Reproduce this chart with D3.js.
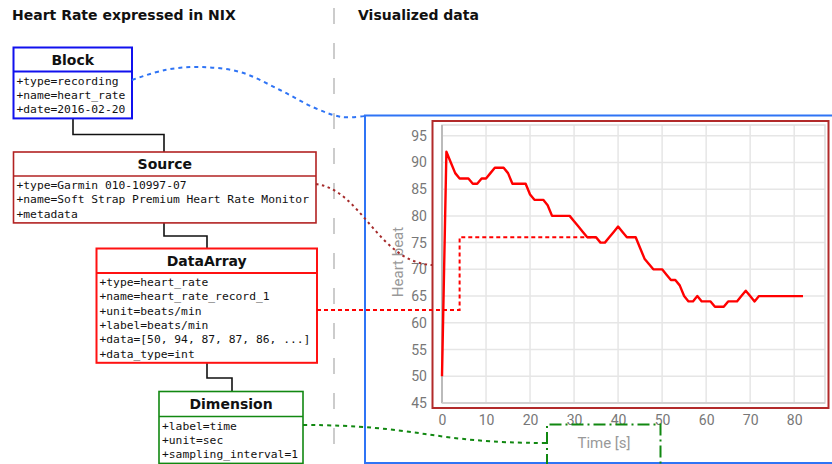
<!DOCTYPE html>
<html>
<head>
<meta charset="utf-8">
<script src="https://cdn.jsdelivr.net/npm/d3@7"></script>
<style>
html,body{margin:0;padding:0;background:#fff;}
svg{display:block;}
</style>
</head>
<body>
<svg id="c" width="832" height="464"></svg>
<script>
// ---- data ----
const heartRate = [50,92,90,88,87,87,87,86,86,87,87,88,89,89,89,88,86,86,86,86,
  84,83,83,83,82,80,80,80,80,80,79,78,77,76,76,76,75,75,76,77,
  78,77,76,76,76,74,72,71,70,70,70,69,68,68,67,65,64,64,65,64,
  64,64,63,63,63,64,64,64,65,66,65,64,65,65,65,65,65,65,65,65,65,65,65];
const samplingInterval = 1;
const xTicks = [0,10,20,30,40,50,60,70,80];
const yTicks = [45,50,55,60,65,70,75,80,85,90,95];
const xLabel = "Time [s]";
const yLabel = "Heart beat";

const blockAttrs = ["+type=recording","+name=heart_rate","+date=2016-02-20"];
const sourceAttrs = ["+type=Garmin 010-10997-07","+name=Soft Strap Premium Heart Rate Monitor","+metadata"];
const dataArrayAttrs = ["+type=heart_rate","+name=heart_rate_record_1","+unit=beats/min","+label=beats/min","+data=[50, 94, 87, 87, 86, ...]","+data_type=int"];
const dimensionAttrs = ["+label=time","+unit=sec","+sampling_interval=1"];

const svg = d3.select("#c");

// titles
svg.append("text").attr("x",12).attr("y",20).text("Heart Rate expressed in NIX")
  .attr("font-family","DejaVu Sans").attr("font-weight","bold").attr("font-size",14).attr("fill","#111");
svg.append("text").attr("x",358).attr("y",20).text("Visualized data")
  .attr("font-family","DejaVu Sans").attr("font-weight","bold").attr("font-size",14).attr("fill","#111");

// separator
svg.append("line").attr("x1",334).attr("x2",334).attr("y1",8).attr("y2",458)
  .attr("stroke","#cccccc").attr("stroke-width",2).attr("stroke-dasharray","16,19");

// chart frame (blue)
svg.append("path").attr("d","M365,464 V115.5 H832").attr("fill","none")
  .attr("stroke","#2f74f5").attr("stroke-width",2);
svg.append("line").attr("x1",365).attr("x2",832).attr("y1",463).attr("y2",463)
  .attr("stroke","#2f74f5").attr("stroke-width",2);

// UML boxes
function umlBox(x, y, w, headH, title, attrs, color, sw) {
  const g = svg.append("g");
  const lh = 14.3;
  const h = headH + 4 + attrs.length*lh;
  g.append("rect").attr("x",x).attr("y",y).attr("width",w).attr("height",h)
    .attr("fill","#fff").attr("stroke",color).attr("stroke-width",sw);
  g.append("line").attr("x1",x).attr("x2",x+w).attr("y1",y+headH).attr("y2",y+headH)
    .attr("stroke",color).attr("stroke-width",sw);
  g.append("text").attr("x",x+w/2).attr("y",y+headH/2+5).attr("text-anchor","middle")
    .attr("font-family","DejaVu Sans").attr("font-weight","bold").attr("font-size",14).attr("fill","#111").text(title);
  attrs.forEach((a,i)=>{
    g.append("text").attr("x",x+3).attr("y",y+headH+13+i*lh)
      .attr("font-family","DejaVu Sans Mono").attr("font-size",11.3).attr("fill","#111")
      .attr("xml:space","preserve").style("white-space","pre").text(a);
  });
  return h;
}

// connectors (black)
const conn = "#111";
svg.append("path").attr("d","M73,117 V134.5 H164 V152").attr("fill","none").attr("stroke",conn).attr("stroke-width",1.6);
svg.append("path").attr("d","M164,222 V236 H207 V248").attr("fill","none").attr("stroke",conn).attr("stroke-width",1.6);
svg.append("path").attr("d","M207,362 V378 H232 V391").attr("fill","none").attr("stroke",conn).attr("stroke-width",1.6);

umlBox(13.5,47.5,118.5,24,"Block",blockAttrs,"#1111ee",2);
umlBox(13.5,152,302.5,24,"Source",sourceAttrs,"#b22222",1.6);
umlBox(96.5,248.5,220.5,24.5,"DataArray",dataArrayAttrs,"#ff1111",2);
umlBox(159,391.5,144,25,"Dimension",dimensionAttrs,"#118811",1.6);

// ---- chart ----
const x = d3.scaleLinear().domain([0,87]).range([442,825]);
const y = d3.scaleLinear().domain([45,97]).range([403,125]);

// outer red border
svg.append("rect").attr("x",432.5).attr("y",121).attr("width",396).attr("height",287)
  .attr("fill","#fff").attr("stroke","#b22a2a").attr("stroke-width",2);

// grid
const grid = svg.append("g");
grid.selectAll("line.gx").data(xTicks).join("line")
  .attr("x1",d=>x(d)).attr("x2",d=>x(d)).attr("y1",y.range()[1]).attr("y2",y.range()[0])
  .attr("stroke","#e6e6e6").attr("stroke-width",1.5);
grid.selectAll("line.gy").data(yTicks).join("line")
  .attr("x1",x.range()[0]).attr("x2",x.range()[1]).attr("y1",d=>y(d)).attr("y2",d=>y(d))
  .attr("stroke","#e6e6e6").attr("stroke-width",1.5);
// plot frame
svg.append("rect").attr("x",x.range()[0]).attr("y",y.range()[1])
  .attr("width",x.range()[1]-x.range()[0]).attr("height",y.range()[0]-y.range()[1])
  .attr("fill","none").attr("stroke","#dddddd").attr("stroke-width",1.5);
svg.append("line").attr("x1",x(0)).attr("x2",x(0)).attr("y1",y.range()[1]).attr("y2",y.range()[0])
  .attr("stroke","#bbbbbb").attr("stroke-width",2);
svg.append("line").attr("x1",x.range()[0]).attr("x2",x.range()[1]).attr("y1",y.range()[0]).attr("y2",y.range()[0])
  .attr("stroke","#cccccc").attr("stroke-width",1.5);

// axes
const xAxis = svg.append("g").attr("transform","translate(0,412)")
  .call(d3.axisBottom(x).tickValues(xTicks).tickSize(0).tickPadding(3));
const yAxis = svg.append("g").attr("transform","translate(429,0)")
  .call(d3.axisLeft(y).tickValues(yTicks).tickSize(0).tickPadding(2));
[xAxis,yAxis].forEach(a=>{
  a.select(".domain").remove();
  a.selectAll("text").attr("font-family","Roboto").attr("font-size",14).attr("fill","#777");
});

svg.append("text").attr("transform","translate(403,262) rotate(-90)").attr("text-anchor","middle")
  .attr("font-family","Roboto").attr("font-size",15).attr("fill","#999").text(yLabel);

// data line
const line = d3.line().x((d,i)=>x(i*samplingInterval)).y(d=>y(d));
svg.append("path").datum(heartRate).attr("d",line).attr("fill","none")
  .attr("stroke","#ff0000").attr("stroke-width",2.4).attr("stroke-linejoin","round");

// ---- annotations ----
// Block -> chart frame (blue dashed)
const bluePts = [[132,80],[165,70],[200,67],[240,72],[280,90],[315,108],[342,117],[365,116]];
svg.append("path").attr("d",d3.line().curve(d3.curveCatmullRom)(bluePts)).attr("fill","none")
  .attr("stroke","#2f74f5").attr("stroke-width",2).attr("stroke-dasharray","4,4");

// Source -> y label (dark red dotted)
svg.append("path").attr("d","M316,184 C362,190 378,262 432,265").attr("fill","none")
  .attr("stroke","#a52a2a").attr("stroke-width",2).attr("stroke-dasharray","2.5,3.5");

// DataArray -> data (red dashed)
svg.append("path").attr("d",`M317,${310} H${x(4)} V${y(76)} H${x(35)}`).attr("fill","none")
  .attr("stroke","#ff0000").attr("stroke-width",2).attr("stroke-dasharray","4,3");

// Dimension -> x label (green dashed)
svg.append("path").attr("d","M303,425 C420,425 430,443 547,443").attr("fill","none")
  .attr("stroke","#118811").attr("stroke-width",2).attr("stroke-dasharray","4,4");
svg.append("path").attr("d","M547,466 V424.5 H660.5 V466").attr("fill","none")
  .attr("stroke","#118811").attr("stroke-width",2).attr("stroke-dasharray","12,4,2,4");
svg.append("text").attr("x",604).attr("y",448).attr("text-anchor","middle")
  .attr("font-family","Roboto").attr("font-size",15).attr("fill","#999").text(xLabel);
</script>
</body>
</html>
